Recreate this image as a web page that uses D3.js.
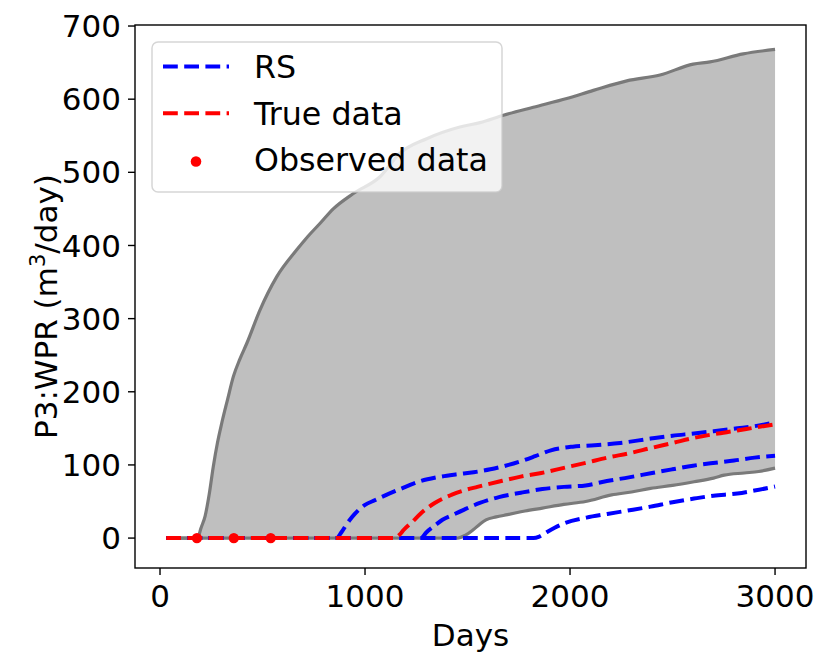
<!DOCTYPE html>
<html><head><meta charset="utf-8">
<script src="https://cdn.jsdelivr.net/npm/d3@7"></script>
<style>body{margin:0;background:#fff} text{font-family:"DejaVu Sans",sans-serif;fill:#000}</style>
</head><body><svg id="c" width="830" height="667"></svg>
<script>
// ---- data ----
const upperDays = [30,180,190,198,220,240,260,280,301,330,358,390,423,488,569,667,720,780,845,943,1073,1170,1301,1463,1561,1675,1821,1984,2114,2277,2439,2601,2683,2845,3000];
const upperRate = [0,0,4,12,30,60,98,130,157,190,221,245,266,312,357,394,412,430,450,471,494,526,546,562,568,578,589,601,612,625,633,648,651,662,668];
const lowerDays = [30,1452,1490,1526,1560,1590,1640,1695,1780,1865,1970,2076,2203,2300,2393,2500,2605,2700,2752,2850,2920,3000];
const lowerRate = [0,0,4,11,19,25,29,32,37,41,46,50,59,63,68,72,77,82,86,89,91,95.7];
const rsHighDays = [30,860,885,913,950,998,1050,1104,1180,1273,1350,1442,1530,1611,1700,1759,1830,1907,2013,2120,2245,2393,2500,2605,2700,2816,2900,3000];
const rsHighRate = [0,0,8,20,33,45,52,59,68,78,83,87,90,94,100,105,112,120,125,127,130,136,140,143,146,150,153,158];
const rsMidDays = [30,1273,1300,1340,1378,1430,1484,1560,1653,1760,1865,1970,2076,2180,2287,2400,2499,2600,2710,2800,2900,3000];
const rsMidRate = [0,0,8,17,25,32,39,48,56,62,67,70,72,78,83,89,94,99,103,106,110,112.5];
const rsLowDays = [30,1822,1850,1886,1925,1970,2080,2182,2290,2393,2500,2605,2700,2816,2900,3000];
const rsLowRate = [0,0,2,8,14,20,28,33,38,43,49,54,58,61,65,70.5];
const trueDays = [30,1146,1170,1188,1230,1273,1340,1421,1480,1548,1650,1759,1860,1970,2080,2182,2290,2393,2500,2605,2700,2816,2900,3000];
const trueRate = [0,0,5,11,22,34,48,59,65,70,77,84,89,96,103,110,116,123,130,137,142,147,151,155.5];
const obsDays = [180,360,540];
const obsRate = [0,0,0];
const xTicks = [0,1000,2000,3000];
const yTicks = [0,100,200,300,400,500,600,700];
const legendLabels = ["RS","True data","Observed data"];

// ---- layout ----
const L = 135, R = 806, T = 25, B = 568;
const svg = d3.select("#c");
const x = d3.scaleLinear().domain([-122, 3151]).range([L, R]);
const y = d3.scaleLinear().domain([-40.9, 701.4]).range([B, T]);
const zip = (a, b) => a.map((v, i) => [v, b[i]]);
const line = d3.line().x(d => x(d[0])).y(d => y(d[1])).curve(d3.curveMonotoneX);
const poly = d3.line().x(d => x(d[0])).y(d => y(d[1]));

const up = zip(upperDays, upperRate), lo = zip(lowerDays, lowerRate);
const g = svg.append("g");
g.append("path").attr("d", line(up) + "L" + poly(lo.slice().reverse()).slice(1) + "Z")
  .attr("fill", "#808080").attr("fill-opacity", 0.5).attr("stroke", "none");
[up, lo].forEach(d => g.append("path").attr("d", line(d)).attr("fill", "none")
  .attr("stroke", "#7a7a7a").attr("stroke-width", 3.2).attr("stroke-linejoin", "round"));

const dash = "14.8,6.4";
[zip(rsHighDays, rsHighRate), zip(rsMidDays, rsMidRate), zip(rsLowDays, rsLowRate)].forEach(d =>
  g.append("path").attr("d", line(d)).attr("fill", "none").attr("stroke", "#0000ff")
   .attr("stroke-width", 4).attr("stroke-dasharray", dash));
g.append("path").attr("d", line(zip(trueDays, trueRate))).attr("fill", "none").attr("stroke", "#ff0000")
  .attr("stroke-width", 4).attr("stroke-dasharray", dash);
g.selectAll("circle.obs").data(zip(obsDays, obsRate)).enter().append("circle")
  .attr("cx", d => x(d[0])).attr("cy", d => y(d[1])).attr("r", 5.2).attr("fill", "#ff0000");

// ---- legend ----
const lg = svg.append("g");
lg.append("rect").attr("x", 152).attr("y", 42).attr("width", 350).attr("height", 150).attr("rx", 6)
  .attr("fill", "#fff").attr("fill-opacity", 0.8).attr("stroke", "#cccccc").attr("stroke-opacity", 0.8).attr("stroke-width", 1.5);
const rowY = [66.5, 113.2, 160];
const colors = ["#0000ff", "#ff0000"];
[0, 1].forEach(i => lg.append("line").attr("x1", 163).attr("x2", 229).attr("y1", rowY[i]).attr("y2", rowY[i])
  .attr("stroke", colors[i]).attr("stroke-width", 4).attr("stroke-dasharray", dash));
lg.append("circle").attr("cx", 196).attr("cy", rowY[2] + 1.5).attr("r", 5.3).attr("fill", "#ff0000");
legendLabels.forEach((t, i) => lg.append("text").attr("x", 254).attr("y", rowY[i]).attr("dy", "0.36em")
  .attr("font-size", 31.7).text(t));

// ---- axes ----
const ax = svg.append("g");
ax.append("rect").attr("x", L).attr("y", T).attr("width", R - L).attr("height", B - T)
  .attr("fill", "none").attr("stroke", "#000").attr("stroke-width", 1.4);
xTicks.forEach(v => {
  ax.append("line").attr("x1", x(v)).attr("x2", x(v)).attr("y1", B).attr("y2", B + 7).attr("stroke", "#000").attr("stroke-width", 1.4);
  ax.append("text").attr("x", x(v)).attr("y", 607).attr("text-anchor", "middle").attr("font-size", 31).text(v);
});
yTicks.forEach(v => {
  ax.append("line").attr("x1", L - 7).attr("x2", L).attr("y1", y(v)).attr("y2", y(v)).attr("stroke", "#000").attr("stroke-width", 1.4);
  ax.append("text").attr("x", 121).attr("y", y(v)).attr("dy", "0.36em").attr("text-anchor", "end").attr("font-size", 31).text(v);
});
ax.append("text").attr("x", (L + R) / 2).attr("y", 646).attr("text-anchor", "middle").attr("font-size", 31).text("Days");
const yl = ax.append("text").attr("transform", "translate(57,439) rotate(-90)").attr("text-anchor", "start").attr("font-size", 31);
yl.append("tspan").text("P3:WPR (m");
yl.append("tspan").attr("font-size", 21).attr("dy", -12).text("3");
yl.append("tspan").attr("dy", 12).text("/day)");
</script></body></html>
